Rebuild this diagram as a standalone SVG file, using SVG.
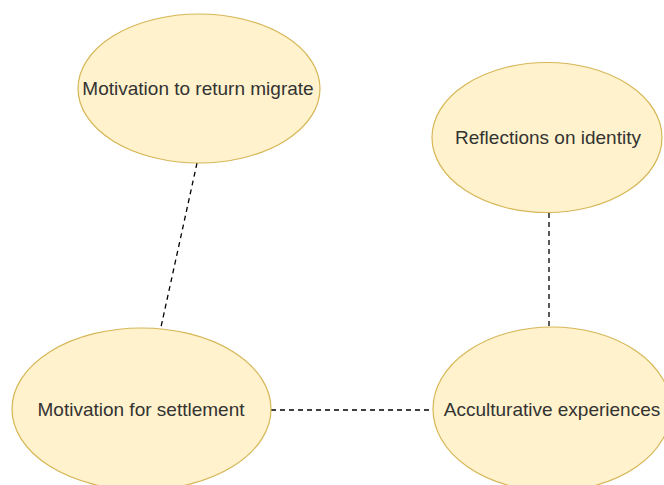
<svg xmlns="http://www.w3.org/2000/svg" width="664" height="485" viewBox="0 0 664 485">
<style>
.node ellipse{fill:#fff2cc;stroke:#d6b656;stroke-width:1.2}
.node text{font-family:"Liberation Sans",Arial,sans-serif;font-size:19px;fill:#333333;text-anchor:middle;dominant-baseline:central}
.edge{stroke:#000000;stroke-width:1.3;stroke-dasharray:5 4;fill:none}
</style>
<rect width="664" height="485" fill="#ffffff"/>
<g id="connectors">
<line class="edge" x1="197" y1="163" x2="161" y2="327"/>
<line class="edge" x1="549" y1="213" x2="549" y2="327"/>
<line class="edge" x1="271" y1="410" x2="433" y2="410"/>
</g>
<g id="node-return" class="node">
<ellipse cx="199" cy="88.5" rx="121" ry="74.5"/>
<text x="198" y="88">Motivation to return migrate</text>
</g>
<g id="node-identity" class="node">
<ellipse cx="547" cy="137.5" rx="115" ry="75"/>
<text x="548" y="137">Reflections on identity</text>
</g>
<g id="node-settlement" class="node">
<ellipse cx="141.5" cy="409" rx="129.5" ry="81"/>
<text x="141" y="409">Motivation for settlement</text>
</g>
<g id="node-accult" class="node">
<ellipse cx="552" cy="409" rx="119" ry="82"/>
<text x="552" y="409">Acculturative experiences</text>
</g>
</svg>
